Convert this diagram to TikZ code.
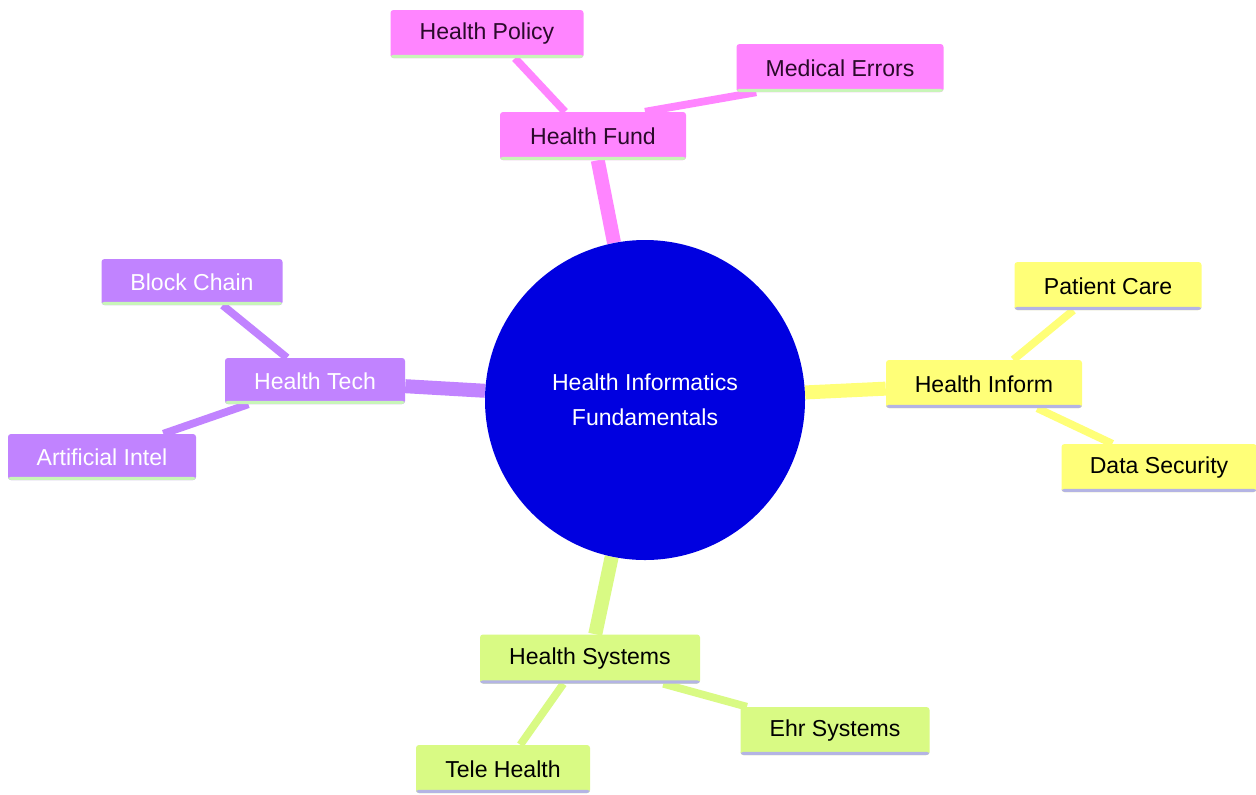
\documentclass[tikz,border=0pt]{standalone}
\usepackage{fontspec}
\setmainfont{Liberation Sans}
\usetikzlibrary{calc}
\pgfdeclarelayer{bg}
\pgfsetlayers{bg,main}
\definecolor{pinkc}{HTML}{FF85FF}
\definecolor{purpc}{HTML}{C183FF}
\definecolor{yelc}{HTML}{FFFF78}
\definecolor{limec}{HTML}{D9FA84}
\definecolor{bluec}{HTML}{0000E0}
\definecolor{ulgreen}{HTML}{C8F5B8}
\definecolor{ulpurple}{HTML}{B4B4E4}
\definecolor{pinktext}{HTML}{2A0A2A}
\begin{document}
\begin{tikzpicture}[x=0.75pt,y=-0.75pt,
  mm/.style={rectangle, rounded corners=2.2pt, inner sep=0pt,
    font=\fontsize{17.3}{20}\selectfont},
  sz/.style 2 args={minimum width=#1*0.75pt, minimum height=#2*0.75pt},
  ul/.style={path picture={\fill[#1] ([yshift=2.4pt]path picture bounding box.south west) rectangle (path picture bounding box.south east);}},
  fundn/.style={mm, fill=pinkc, text=pinktext, ul=ulgreen},
  techn/.style={mm, fill=purpc, text=white, ul=ulgreen},
  infon/.style={mm, fill=yelc, text=black, ul=ulpurple},
  sysn/.style={mm, fill=limec, text=black, ul=ulpurple},
  mainedge/.style={line width=10.5pt},
  subedge/.style={line width=5.8pt},
]
\useasboundingbox (0,0) rectangle (1256,794);

\node[circle, fill=bluec, text=white, minimum size=240pt, inner sep=0pt, align=center,
  font=\fontsize{17.3}{26}\selectfont] (root) at (645,400) {Health Informatics\\Fundamentals};

\node[fundn, sz={186}{48}] (fund) at (593,136) {Health Fund};
\node[fundn, sz={193}{48}] (policy) at (487,34) {Health Policy};
\node[fundn, sz={207}{48}] (errors) at (840,68) {Medical Errors};

\node[infon, sz={196}{48}] (inform) at (984,384) {Health Inform};
\node[infon, sz={187}{48}] (care) at (1108,286) {Patient Care};
\node[infon, sz={195}{48}] (security) at (1159,468) {Data Security};

\node[techn, sz={180}{46}] (tech) at (315,381) {Health Tech};
\node[techn, sz={181}{46}] (block) at (192,282) {Block Chain};
\node[techn, sz={188}{46}] (ai) at (102,457) {Artificial Intel};

\node[sysn, sz={220}{49}] (systems) at (590,659) {Health Systems};
\node[sysn, sz={189}{48}] (ehr) at (835,731) {Ehr Systems};
\node[sysn, sz={174}{48}] (tele) at (503,769) {Tele Health};

\begin{pgfonlayer}{bg}
\fill[white] (0,0) rectangle (1256,794);
\draw[mainedge, pinkc] (root) -- (fund);
\draw[mainedge, yelc] (root) -- (inform);
\draw[mainedge, purpc] (root) -- (tech);
\draw[mainedge, limec] (root) -- (systems);

\draw[subedge, pinkc] ([xshift=-21pt]fund.north) -- ([xshift=21pt]policy.south);
\draw[subedge, pinkc] ([xshift=39pt]fund.north) -- ([xshift=15pt]errors.south west);

\draw[subedge, yelc] ([xshift=22pt]inform.north) -- ([xshift=-26pt]care.south);
\draw[subedge, yelc] ([xshift=40pt]inform.south) -- ([xshift=-35pt]security.north);

\draw[subedge, purpc] ([xshift=-21pt]tech.north) -- ([xshift=23pt]block.south);
\draw[subedge, purpc] ([xshift=-50pt]tech.south) -- ([xshift=46pt]ai.north);

\draw[subedge, limec] ([xshift=-20pt]systems.south) -- ([xshift=13pt]tele.north);
\draw[subedge, limec] ([xshift=55pt]systems.south) -- ([xshift=5pt]ehr.north west);
\end{pgfonlayer}
\end{tikzpicture}
\end{document}
